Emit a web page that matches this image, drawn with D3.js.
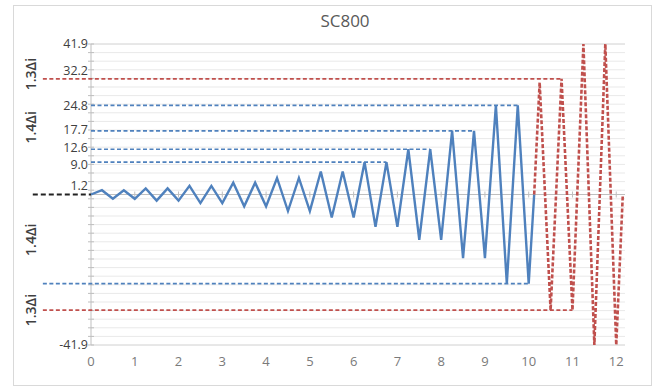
<!DOCTYPE html>
<html>
<head>
<meta charset="utf-8">
<script src="https://cdn.jsdelivr.net/npm/d3@7.9.0/dist/d3.min.js"></script>
<style>
  body { margin: 0; background: #fff; }
  svg { display: block; font-family: "Open Sans", "Liberation Sans", sans-serif; }
</style>
</head>
<body>
<svg id="chart"></svg>
<script>
// ------------------------------------------------------------
// data
// ------------------------------------------------------------
const blueX = [0, 0.25, 0.5, 0.75, 1, 1.25, 1.5, 1.75, 2, 2.25, 2.5, 2.75, 3, 3.25, 3.5, 3.75,
  4, 4.25, 4.5, 4.75, 5, 5.25, 5.5, 5.75, 6, 6.25, 6.5, 6.75, 7, 7.25, 7.5, 7.75,
  8, 8.25, 8.5, 8.75, 9, 9.25, 9.5, 9.75, 10, 10.125];
const blueY = [0, 1.2, -1.2, 1.2, -1.2, 1.7, -1.7, 1.7, -1.7, 2.4, -2.4, 2.4, -2.4, 3.3, -3.3, 3.3,
  -3.3, 4.6, -4.6, 4.6, -4.6, 6.4, -6.4, 6.4, -6.4, 9.0, -9.0, 9.0, -9.0, 12.6, -12.6, 12.6,
  -12.6, 17.7, -17.7, 17.7, -17.7, 24.8, -24.8, 24.8, -24.8, 0];

const redX = [10.125, 10.25, 10.5, 10.75, 11, 11.25, 11.5, 11.75, 12, 12.15];
const redY = [0, 31.2, -32.2, 32.2, -32.2, 41.9, -41.9, 41.9, -41.9, 0];

// horizontal guide lines: level, start x, end x, colour name
const guideLevel = [9.0, 12.6, 17.7, 24.8, -24.8, 32.2, -32.2, 0];
const guideFrom  = [0, 0, 0, 0, -1.1, -1.1, -1.1, -1.33];
const guideTo    = [6.75, 7.75, 8.75, 9.75, 10, 10.75, 11, 0];
const guideKind  = ["blue", "blue", "blue", "blue", "blue", "red", "red", "black"];

const yLabels = [41.9, 32.2, 24.8, 17.7, 12.6, 9.0, 1.2, -41.9];
const xTicks = [0, 1, 2, 3, 4, 5, 6, 7, 8, 9, 10, 11, 12];

const sideText = ["1.3\u0394i", "1.4\u0394i", "1.4\u0394i", "1.3\u0394i"];
const sideAt = [33.5, 18.7, -12.6, -32.2];

const yMax = 41.9;
const gridCount = 35;

// ------------------------------------------------------------
const width = 660, height = 387;
const svg = d3.select("#chart").attr("width", width).attr("height", height);

const x = d3.scaleLinear().domain([0, 12.2]).range([91, 625]);
const y = d3.scaleLinear().domain([-yMax, yMax]).range([345, 44]);

const blue = "#4f81bd", red = "#c0504d";

// chart frame
svg.append("rect")
  .attr("x", 13.5).attr("y", 5.5)
  .attr("width", 638).attr("height", 380)
  .attr("fill", "#fff")
  .attr("stroke", "#d9d9d9");

// title
svg.append("text")
  .attr("x", 345).attr("y", 27)
  .attr("text-anchor", "middle")
  .attr("font-size", 17)
  .attr("fill", "#595959")
  .text("SC800");

// gridlines
const gridVals = d3.range(gridCount + 1).map(k => -yMax + k * 2 * yMax / gridCount);
svg.append("g").selectAll("line")
  .data(gridVals)
  .join("line")
  .attr("x1", x(0)).attr("x2", x(12.2))
  .attr("y1", d => y(d)).attr("y2", d => y(d))
  .attr("stroke", (d, i) => (i === 0 || i === gridCount) ? "#d0d0d0" : "#e9e9e9")
  .attr("stroke-width", 1);

// y axis with crossing tick marks
const yAxis = svg.append("g");
yAxis.append("line")
  .attr("x1", x(0)).attr("x2", x(0))
  .attr("y1", y(-yMax)).attr("y2", y(yMax))
  .attr("stroke", "#bfbfbf");
yAxis.selectAll("line.tk")
  .data(gridVals)
  .join("line")
  .attr("class", "tk")
  .attr("x1", x(0) - 3).attr("x2", x(0) + 3)
  .attr("y1", d => y(d)).attr("y2", d => y(d))
  .attr("stroke", "#bfbfbf");

// x axis at zero
const xAxis = svg.append("g");
xAxis.append("line")
  .attr("x1", x(0)).attr("x2", x(12.2))
  .attr("y1", y(0)).attr("y2", y(0))
  .attr("stroke", "#bfbfbf");
xAxis.selectAll("line.tk")
  .data(xTicks)
  .join("line")
  .attr("class", "tk")
  .attr("x1", d => x(d)).attr("x2", d => x(d))
  .attr("y1", y(0) - 3).attr("y2", y(0) + 3)
  .attr("stroke", "#bfbfbf");

// x tick labels along the bottom
svg.append("g").selectAll("text")
  .data(xTicks)
  .join("text")
  .attr("x", d => x(d))
  .attr("y", 366)
  .attr("text-anchor", "middle")
  .attr("font-size", 13)
  .attr("fill", "#7a7a7a")
  .text(d => d);

// y labels: keep them clear of guide lines that cross the label column,
// then spread labels that sit too close together
const obstacles = guideLevel.filter((v, i) => guideFrom[i] < 0);
const labelPos = yLabels.map(v => {
  let ly = y(v);
  obstacles.forEach(o => {
    if (Math.abs(ly - y(o)) < 8.5) ly = v >= o ? y(o) - 8.5 : y(o) + 8.5;
  });
  return { v, ly };
});
const minGap = 17.5;
for (let pass = 0; pass < 8; pass++) {
  labelPos.sort((a, b) => a.ly - b.ly);
  for (let i = 1; i < labelPos.length; i++) {
    const gap = labelPos[i].ly - labelPos[i - 1].ly;
    if (gap < minGap) {
      const s = (minGap - gap) / 2;
      labelPos[i - 1].ly -= s;
      labelPos[i].ly += s;
    }
  }
}

svg.append("g").selectAll("text")
  .data(labelPos)
  .join("text")
  .attr("x", 88)
  .attr("y", d => d.ly)
  .attr("dy", "0.35em")
  .attr("text-anchor", "end")
  .attr("font-size", 12.5)
  .attr("fill", "#404040")
  .text(d => d.v.toFixed(1));

// side labels (rotated)
svg.append("g").selectAll("text")
  .data(sideAt)
  .join("text")
  .attr("transform", d => `translate(31,${y(d)}) rotate(-90)`)
  .attr("dy", "0.35em")
  .attr("text-anchor", "middle")
  .attr("font-size", 14)
  .attr("font-weight", 600)
  .attr("fill", "#404040")
  .text((d, i) => sideText[i]);

// guide lines
const guideStyle = {
  blue:  { c: blue, w: 1.6, dash: "4,2.5" },
  red:   { c: red, w: 1.8, dash: "4,2.5" },
  black: { c: "#222", w: 1.8, dash: "5,3" }
};
svg.append("g").selectAll("line")
  .data(guideLevel)
  .join("line")
  .attr("x1", (d, i) => x(guideFrom[i]))
  .attr("x2", (d, i) => x(guideTo[i]))
  .attr("y1", d => y(d)).attr("y2", d => y(d))
  .attr("stroke", (d, i) => guideStyle[guideKind[i]].c)
  .attr("stroke-width", (d, i) => guideStyle[guideKind[i]].w)
  .attr("stroke-dasharray", (d, i) => guideStyle[guideKind[i]].dash);

const line = d3.line().x(d => x(d[0])).y(d => y(d[1]));

// blue loading history
svg.append("path")
  .datum(d3.zip(blueX, blueY))
  .attr("d", line)
  .attr("fill", "none")
  .attr("stroke", blue)
  .attr("stroke-width", 2.4)
  .attr("stroke-linejoin", "miter");

// red continuation (dashed)
svg.append("path")
  .datum(d3.zip(redX, redY))
  .attr("d", line)
  .attr("fill", "none")
  .attr("stroke", red)
  .attr("stroke-width", 2.6)
  .attr("stroke-dasharray", "4,2");
</script>
</body>
</html>
